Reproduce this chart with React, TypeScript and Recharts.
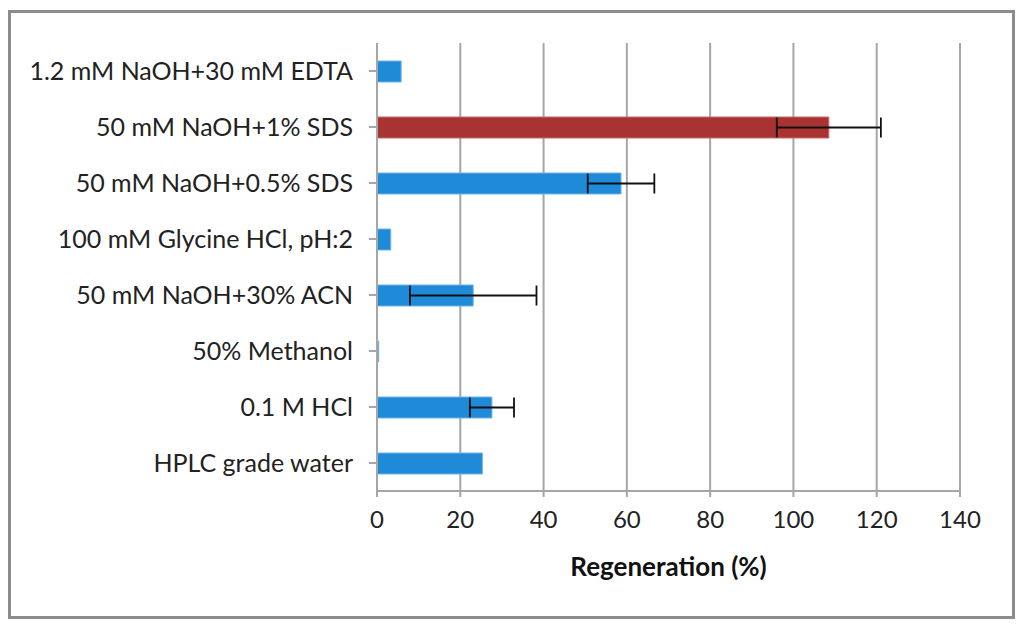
import React from 'react';
import { Bar, BarChart, CartesianGrid, Cell, ErrorBar, XAxis, YAxis } from 'recharts';

const conditions = [
  '1.2 mM NaOH+30 mM EDTA',
  '50 mM NaOH+1% SDS',
  '50 mM NaOH+0.5% SDS',
  '100 mM Glycine HCl, pH:2',
  '50 mM NaOH+30% ACN',
  '50% Methanol',
  '0.1 M HCl',
  'HPLC grade water',
];
const regeneration = [5.8, 108.5, 58.6, 3.3, 23.1, 0.4, 27.6, 25.3];
const errors = [0, 12.5, 8, 0, 15.2, 0, 5.3, 0];
const xTicks = [0, 20, 40, 60, 80, 100, 120, 140];
const highlighted = '50 mM NaOH+1% SDS';

const data = conditions.map((name, i) => ({
  name,
  value: regeneration[i],
  err: errors[i],
}));

const font = 'Lato, "Open Sans", sans-serif';

export default function App() {
  return (
    <div
      style={{
        width: 1001,
        height: 603,
        border: '3px solid #8c8c8c',
        marginTop: 2,
        background: '#fff',
      }}
    >
      <BarChart
        width={1001}
        height={603}
        data={data}
        layout="vertical"
        margin={{ top: 30, right: 52, left: 0, bottom: 40 }}
        barSize={21}
      >
        <CartesianGrid horizontal={false} stroke="#a6a6a6" strokeWidth={2} />
        <XAxis
          type="number"
          domain={[0, 140]}
          ticks={xTicks}
          height={85}
          stroke="#a6a6a6"
          strokeWidth={2}
          tickSize={6}
          tick={{ fill: '#222', fontSize: 24, fontFamily: font }}
          tickMargin={14}
          label={{
            value: 'Regeneration (%)',
            position: 'insideBottom',
            offset: 0,
            style: { fill: '#111', fontSize: 26, fontWeight: 'bold', fontFamily: font },
          }}
        />
        <YAxis
          type="category"
          dataKey="name"
          width={366}
          stroke="#a6a6a6"
          strokeWidth={2}
          tickSize={8}
          tickMargin={16}
          tick={{ fill: '#222', fontSize: 25, fontFamily: font }}
        />
        <Bar dataKey="value" isAnimationActive={false} stroke="#6fb4ea" strokeWidth={1}>
          {data.map((d) => (
            <Cell
              key={d.name}
              fill={d.name === highlighted ? '#a93232' : '#1f8ad8'}
              stroke={d.name === highlighted ? '#c86a6a' : '#6fb4ea'}
            />
          ))}
          <ErrorBar dataKey="err" direction="x" width={10} stroke="#111" strokeWidth={1.8} />
        </Bar>
      </BarChart>
    </div>
  );
}
